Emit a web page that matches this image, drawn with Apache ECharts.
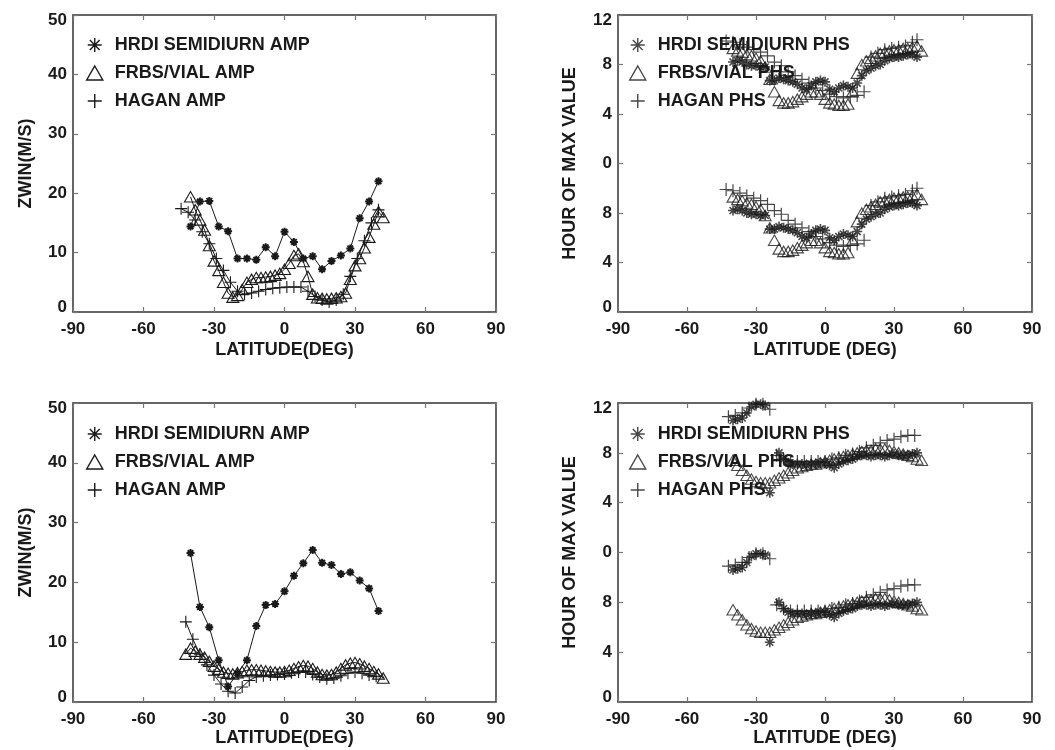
<!DOCTYPE html>
<html>
<head>
<meta charset="utf-8">
<script src="https://cdn.jsdelivr.net/npm/echarts@6/dist/echarts.min.js"></script>
<style>html,body{margin:0;padding:0;background:#fff}#c{width:1055px;height:750px}</style>
</head>
<body>
<div id="c"></div>
<script>
// ---------- DATA (latitude, value) ----------
const xTicks = [-90, -60, -30, 0, 30, 60, 90];

// Top-left: amplitudes (m/s)
const tlHrdi = [[-40,14.4],[-36,18.6],[-32,18.7],[-28,14.4],[-24,13.6],[-20,9.0],[-16,9.0],[-12,8.8],[-8,10.9],[-4,9.4],[0,13.5],[4,11.8],[8,9.0],[12,9.4],[16,7.2],[20,8.6],[24,9.5],[28,10.7],[32,15.8],[36,18.6],[40,22.0]];
const tlFrbs = [[-40,19.4],[-38,17.2],[-36,15.5],[-34,13.8],[-32,11.2],[-30,8.6],[-28,7.0],[-26,5.0],[-24,3.2],[-22,2.5],[-20,2.8],[-18,3.8],[-16,5.0],[-14,5.5],[-12,5.8],[-10,5.8],[-8,5.9],[-6,6.0],[-4,6.2],[-2,6.5],[0,7.2],[2,8.2],[4,9.5],[6,9.8],[8,8.5],[10,6.0],[12,3.0],[14,2.4],[16,2.3],[18,2.2],[20,2.3],[22,2.4],[24,2.6],[26,3.2],[28,5.5],[30,7.8],[32,9.0],[34,10.8],[36,12.6],[38,14.8],[40,16.9],[42,15.9]];
const tlHagan = [[-44,17.4],[-41,16.8],[-38,15.5],[-35,13.5],[-32,11.5],[-29,9.0],[-26,7.0],[-23,5.0],[-20,3.5],[-17,3.0],[-14,3.2],[-11,3.5],[-8,3.8],[-5,4.0],[-2,4.1],[1,4.2],[4,4.2],[7,4.2],[10,3.5],[13,2.6],[16,2.0],[19,1.7],[22,2.0],[25,3.0],[28,6.0],[31,9.0],[34,12.0],[37,15.0],[40,17.2]];

// Top-right: phases (hour, 0-12; drawn twice, +12)
const trHrdi = [[-40,8.2],[-38,8.3],[-36,8.2],[-34,8.0],[-32,7.9],[-30,7.9],[-28,7.8],[-26,7.8],[-24,6.7],[-22,6.7],[-20,6.9],[-18,6.8],[-16,6.7],[-14,6.6],[-12,6.4],[-10,6.1],[-8,6.0],[-6,6.3],[-4,6.6],[-2,6.7],[0,6.6],[2,6.0],[4,5.8],[6,6.1],[8,6.3],[10,6.2],[12,6.1],[14,6.5],[16,7.1],[18,7.5],[20,7.7],[22,7.9],[24,8.0],[26,8.3],[28,8.5],[30,8.6],[32,8.6],[34,8.7],[36,8.8],[38,8.8],[40,8.6]];
const trFrbs = [[-40,9.3],[-38,9.1],[-36,9.0],[-34,8.8],[-32,8.7],[-30,8.5],[-28,8.3],[-26,7.8],[-24,6.8],[-22,5.8],[-20,5.1],[-18,4.9],[-16,4.9],[-14,5.0],[-12,5.2],[-10,5.4],[-8,5.6],[-6,5.8],[-4,5.8],[-2,5.6],[0,5.2],[2,4.9],[4,4.8],[6,4.7],[8,4.7],[10,4.8],[12,5.8],[14,7.3],[16,8.0],[18,8.3],[20,8.5],[22,8.7],[24,8.9],[26,9.0],[28,9.1],[30,9.2],[32,9.2],[34,9.3],[36,9.3],[38,9.4],[40,9.5],[42,9.1]];
const trHagan = [[-43,9.9],[-40,9.8],[-37,9.6],[-34,9.4],[-31,9.2],[-28,9.0],[-25,8.7],[-22,8.2],[-19,7.9],[-16,7.4],[-13,7.1],[-10,6.8],[-7,6.5],[-4,6.1],[-1,5.9],[2,5.6],[5,5.4],[8,5.3],[11,5.4],[14,5.5],[17,5.8],[20,8.6],[23,8.9],[26,9.2],[29,9.3],[32,9.4],[35,9.5],[38,9.8],[40,10.0]];

// Bottom-left: amplitudes (m/s)
const blHrdi = [[-40,24.9],[-36,15.9],[-32,12.5],[-28,7.0],[-24,2.6],[-20,4.8],[-16,7.0],[-12,12.7],[-8,16.2],[-4,16.4],[0,18.5],[4,21.1],[8,23.2],[12,25.4],[16,23.3],[20,22.9],[24,21.4],[28,21.7],[32,20.3],[36,19.0],[40,15.2]];
const blFrbs = [[-42,8.0],[-40,9.0],[-38,8.5],[-36,8.0],[-34,7.5],[-32,6.8],[-30,6.0],[-28,5.5],[-26,5.0],[-24,4.8],[-22,4.7],[-20,4.9],[-18,5.1],[-16,5.3],[-14,5.4],[-12,5.4],[-10,5.3],[-8,5.2],[-6,5.1],[-4,5.0],[-2,5.0],[0,5.1],[2,5.3],[4,5.6],[6,5.9],[8,6.1],[10,6.0],[12,5.6],[14,5.0],[16,4.6],[18,4.5],[20,4.6],[22,5.0],[24,5.6],[26,6.2],[28,6.5],[30,6.6],[32,6.4],[34,6.0],[36,5.6],[38,5.1],[40,4.7],[42,4.0]];
const blHagan = [[-42,13.4],[-39,10.5],[-36,8.0],[-33,6.2],[-30,4.5],[-27,3.0],[-24,1.8],[-21,1.5],[-18,2.5],[-15,3.6],[-12,4.2],[-9,4.4],[-6,4.5],[-3,4.6],[0,4.7],[3,4.9],[6,5.0],[9,5.0],[12,4.6],[15,4.2],[18,3.9],[21,4.0],[24,4.4],[27,4.8],[30,5.0],[33,4.8],[36,4.5],[39,4.3]];

// Bottom-right: phases (hour, 0-12; drawn twice, +12)
const brHrdi = [[-40,10.6],[-38,10.7],[-36,10.8],[-34,11.2],[-32,11.7],[-30,11.9],[-28,11.9],[-26,11.8],[-24,4.8],[-20,8.0],[-18,7.5],[-16,7.2],[-14,7.1],[-12,7.1],[-10,7.1],[-8,7.0],[-6,7.1],[-4,7.1],[-2,7.2],[0,7.2],[2,7.0],[4,6.8],[6,7.1],[8,7.3],[10,7.4],[12,7.5],[14,7.7],[16,7.8],[18,7.8],[20,7.7],[22,7.8],[24,7.8],[26,7.7],[28,7.8],[30,7.9],[32,7.8],[34,7.8],[36,7.8],[38,7.9],[40,8.0]];
const brFrbs = [[-40,7.4],[-38,7.0],[-36,6.6],[-34,6.2],[-32,5.9],[-30,5.7],[-28,5.6],[-26,5.6],[-24,5.6],[-22,5.8],[-20,6.0],[-18,6.2],[-16,6.4],[-14,6.6],[-12,6.8],[-10,6.9],[-8,7.0],[-6,7.1],[-4,7.1],[-2,7.2],[0,7.3],[2,7.4],[4,7.5],[6,7.6],[8,7.7],[10,7.8],[12,7.9],[14,8.0],[16,8.1],[18,8.2],[20,8.2],[22,8.3],[24,8.3],[26,8.3],[28,8.2],[30,8.1],[32,8.0],[34,7.9],[36,7.8],[38,7.7],[40,7.5],[42,7.4]];
const brHagan = [[-42,10.9],[-39,11.0],[-36,11.2],[-33,11.6],[-30,11.9],[-27,11.9],[-24,11.5],[-21,7.8],[-18,7.5],[-15,7.3],[-12,7.3],[-9,7.3],[-6,7.3],[-3,7.3],[0,7.3],[3,7.5],[6,7.6],[9,7.8],[12,7.9],[15,8.1],[18,8.4],[21,8.6],[24,8.8],[27,9.0],[30,9.1],[33,9.3],[36,9.4],[39,9.4]];

const ampNames = ['HRDI SEMIDIURN AMP', 'FRBS/VIAL AMP', 'HAGAN AMP'];
const phsNames = ['HRDI SEMIDIURN PHS', 'FRBS/VIAL PHS', 'HAGAN PHS'];
const ampTicks = [0, 10, 20, 30, 40, 50];
const phsTickLabels = ['0', '4', '8', '0', '4', '8', '12'];

// ---------- STYLE ----------
const FONT = "'Liberation Sans', Arial, Helvetica, sans-serif";
const INK = '#1a1a1a';
const STAR = 'path://M5,0V10M0,5H10M1.5,1.5L8.5,8.5M1.5,8.5L8.5,1.5';
const TRI = 'path://M5,0L10,8.7L0,8.7Z';
const PLUS = 'path://M5,0V10M0,5H10';
const symbols = [STAR, TRI, PLUS];

const grids = [], xAxis = [], yAxis = [], series = [], legend = [];

function endRich(txt, v, min, max) {
  if (v === min) return '{lo|' + txt + '}';
  if (v === max) return '{hi|' + txt + '}';
  return txt;
}
const labelFont = {fontFamily: FONT, fontSize: 17, fontWeight: 'bold', color: INK};
const rich = {lo: Object.assign({padding: [0, 0, 10, 0]}, labelFont), hi: Object.assign({padding: [10, 0, 0, 0]}, labelFont)};

function addPanel(g, yMax, yInt, yName, xName, yNameGap, xNameGap, fmt) {
  const gi = grids.length;
  grids.push(g);
  const line = {show: true, onZero: false, lineStyle: {color: '#333', width: 1.5}};
  const tick = {show: true, inside: true, length: 5, lineStyle: {color: '#777', width: 1.2}};
  xAxis.push({type: 'value', gridIndex: gi, position: 'bottom', min: -90, max: 90, interval: 30,
    name: xName, nameLocation: 'middle', nameGap: xNameGap,
    nameTextStyle: {fontFamily: FONT, fontSize: 18, fontWeight: 'bold', color: INK},
    axisLine: line, axisTick: tick, splitLine: {show: false},
    axisLabel: Object.assign({margin: 9}, labelFont)});
  xAxis.push({type: 'value', gridIndex: gi, position: 'top', min: -90, max: 90, interval: 30,
    axisLine: line, axisTick: tick, splitLine: {show: false}, axisLabel: {show: false}});
  yAxis.push({type: 'value', gridIndex: gi, position: 'left', min: 0, max: yMax, interval: yInt,
    name: yName, nameLocation: 'middle', nameGap: yNameGap,
    nameTextStyle: {fontFamily: FONT, fontSize: 18, fontWeight: 'bold', color: INK},
    axisLine: line, axisTick: tick, splitLine: {show: false},
    axisLabel: Object.assign({margin: 6, rich: rich, formatter: v => endRich(fmt(v), v, 0, yMax)}, labelFont)});
  yAxis.push({type: 'value', gridIndex: gi, position: 'right', min: 0, max: yMax, interval: yInt,
    axisLine: line, axisTick: tick, splitLine: {show: false}, axisLabel: {show: false}});
  return gi;
}

function addLegend(names, left, top) {
  legend.push({orient: 'vertical', left: left, top: top, itemWidth: 30, itemHeight: 14, itemGap: 10,
    selectedMode: false,
    itemStyle: {color: 'transparent', borderColor: INK, borderWidth: 1.4},
    textStyle: {fontFamily: FONT, fontSize: 18, fontWeight: 'bold', color: INK, lineHeight: 14},
    data: names.map((n, i) => ({name: n, icon: symbols[i]}))});
}

function ampSeries(gi, name, data, sym, size, bw) {
  series.push({type: 'line', name: name, xAxisIndex: 2 * gi, yAxisIndex: 2 * gi, data: data,
    symbol: sym, symbolSize: size, showSymbol: true, symbolKeepAspect: true, animation: false, silent: true,
    lineStyle: {color: INK, width: 1}, itemStyle: {color: 'transparent', borderColor: INK, borderWidth: bw},
    emphasis: {disabled: true}, z: 3});
}
function phsSeries(gi, name, data, sym, size, bw) {
  const upper = data.map(d => [d[0], d[1] + 12]);
  [data, upper].forEach(dd => series.push({type: 'scatter', name: name, xAxisIndex: 2 * gi, yAxisIndex: 2 * gi,
    data: dd, symbol: sym, symbolSize: size, symbolKeepAspect: true, animation: false, silent: true,
    itemStyle: {color: 'transparent', borderColor: INK, borderWidth: bw}, emphasis: {disabled: true}, z: 3}));
}

const ampFmt = v => String(v);
const phsFmt = v => phsTickLabels[v / 4];

const p0 = addPanel({left: 73, top: 15, width: 423, height: 297}, 50, 10, 'ZWIN(M/S)', 'LATITUDE(DEG)', 38, 29, ampFmt);
ampSeries(p0, ampNames[0], tlHrdi, STAR, 8, 2);
ampSeries(p0, ampNames[1], tlFrbs, TRI, 12, 1.1);
ampSeries(p0, ampNames[2], tlHagan, PLUS, 12, 1.1);
addLegend(ampNames, 81, 31);

const p1 = addPanel({left: 618, top: 15, width: 414, height: 297}, 24, 4, 'HOUR OF MAX VALUE', 'LATITUDE (DEG)', 39, 29, phsFmt);
phsSeries(p1, phsNames[0], trHrdi, STAR, 10, 1.6);
phsSeries(p1, phsNames[1], trFrbs, TRI, 12, 1.1);
phsSeries(p1, phsNames[2], trHagan, PLUS, 13, 1.2);
addLegend(phsNames, 624, 31);

const p2 = addPanel({left: 73, top: 403, width: 423, height: 299}, 50, 10, 'ZWIN(M/S)', 'LATITUDE(DEG)', 38, 27, ampFmt);
ampSeries(p2, ampNames[0], blHrdi, STAR, 8, 2);
ampSeries(p2, ampNames[1], blFrbs, TRI, 12, 1.1);
ampSeries(p2, ampNames[2], blHagan, PLUS, 12, 1.1);
addLegend(ampNames, 81, 420);

const p3 = addPanel({left: 618, top: 403, width: 414, height: 299}, 24, 4, 'HOUR OF MAX VALUE', 'LATITUDE (DEG)', 39, 27, phsFmt);
phsSeries(p3, phsNames[0], brHrdi, STAR, 10, 1.6);
phsSeries(p3, phsNames[1], brFrbs, TRI, 12, 1.1);
phsSeries(p3, phsNames[2], brHagan, PLUS, 13, 1.2);
addLegend(phsNames, 624, 420);

const chart = echarts.init(document.getElementById('c'), null, {renderer: 'canvas'});
chart.setOption({backgroundColor: '#fff', animation: false, grid: grids, xAxis: xAxis, yAxis: yAxis, legend: legend, series: series});
</script>
</body>
</html>
